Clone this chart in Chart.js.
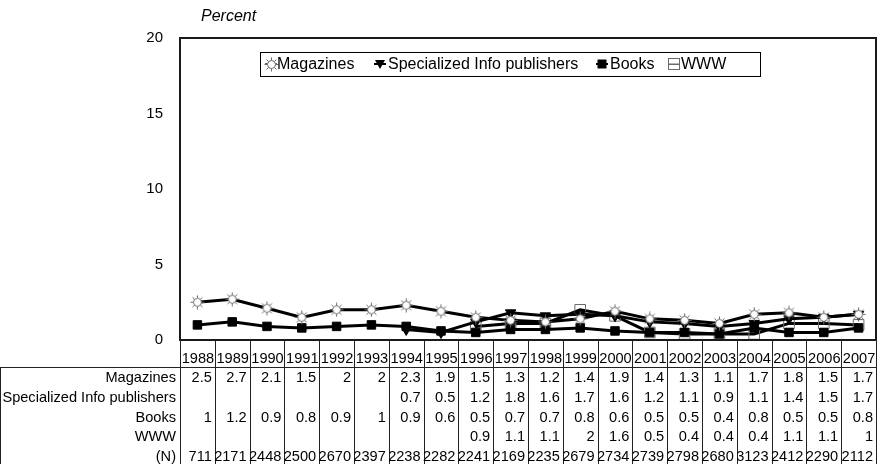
<!DOCTYPE html>
<html>
<head>
<meta charset="utf-8">
<script src="https://cdn.jsdelivr.net/npm/chart.js@4/dist/chart.umd.min.js"></script>
<style>
  html, body { margin: 0; padding: 0; background: #fff; }
  #c { display: block; }
</style>
</head>
<body>
<canvas id="c" width="886" height="464"></canvas>
<script>
// ---- DATA ----
const years = ['1988','1989','1990','1991','1992','1993','1994','1995','1996','1997','1998','1999','2000','2001','2002','2003','2004','2005','2006','2007'];
const magazines   = [2.5,2.7,2.1,1.5,2,2,2.3,1.9,1.5,1.3,1.2,1.4,1.9,1.4,1.3,1.1,1.7,1.8,1.5,1.7];
const specialized = [null,null,null,null,null,null,0.7,0.5,1.2,1.8,1.6,1.7,1.6,1.2,1.1,0.9,1.1,1.4,1.5,1.7];
const books       = [1,1.2,0.9,0.8,0.9,1,0.9,0.6,0.5,0.7,0.7,0.8,0.6,0.5,0.5,0.4,0.8,0.5,0.5,0.8];
const www         = [null,null,null,null,null,null,null,null,0.9,1.1,1.1,2,1.6,0.5,0.4,0.4,0.4,1.1,1.1,1];
const sampleN     = [711,2171,2448,2500,2670,2397,2238,2282,2241,2169,2235,2679,2734,2739,2798,2680,3123,2412,2290,2112];
const seriesNames = ['Magazines','Specialized Info publishers','Books','WWW'];
const nLabel = '(N)';
const yTicks = [0,5,10,15,20];
const yAxisTitle = 'Percent';

const FONT = '"Liberation Sans", Arial, Helvetica, sans-serif';

// sun marker
function makeSun(size) {
  const c = document.createElement('canvas');
  c.width = size; c.height = size;
  const g = c.getContext('2d');
  const m = size / 2;
  g.strokeStyle = '#6a6a6a';
  g.lineWidth = 1;
  for (let k = 0; k < 8; k++) {
    const a = k * Math.PI / 4;
    g.beginPath();
    g.moveTo(m + Math.cos(a) * 4, m + Math.sin(a) * 4);
    g.lineTo(m + Math.cos(a) * (m - 0.5), m + Math.sin(a) * (m - 0.5));
    g.stroke();
  }
  g.beginPath();
  g.arc(m, m, 4, 0, Math.PI * 2);
  g.fillStyle = '#fff';
  g.fill();
  g.stroke();
  return c;
}
const sunImg = makeSun(15);

function fmt(v) { return v === null || v === undefined ? '' : String(v); }

const tableRows = [
  { label: seriesNames[0], values: magazines },
  { label: seriesNames[1], values: specialized },
  { label: seriesNames[2], values: books },
  { label: seriesNames[3], values: www },
  { label: nLabel, values: sampleN }
];

function drawMarker(ctx, kind, x, y) {
  ctx.save();
  if (kind === 0) {
    ctx.drawImage(sunImg, Math.round(x - 7.5), Math.round(y - 7.5));
  } else if (kind === 1) {
    ctx.fillStyle = '#000';
    ctx.beginPath();
    ctx.moveTo(x - 5, y - 4);
    ctx.lineTo(x + 5, y - 4);
    ctx.lineTo(x, y + 5);
    ctx.closePath();
    ctx.fill();
  } else if (kind === 2) {
    ctx.fillStyle = '#000';
    ctx.fillRect(x - 4.5, y - 4.5, 9, 9);
  } else {
    ctx.strokeStyle = '#6a6a6a';
    ctx.lineWidth = 1;
    ctx.strokeRect(x - 5.5, y - 5.5, 11, 11);
  }
  ctx.restore();
}

const overlay = {
  id: 'overlay',
  afterDraw(chart) {
    const ctx = chart.ctx;
    const a = chart.chartArea;
    const xs = chart.scales.x;
    ctx.save();

    // plot frame
    ctx.strokeStyle = '#1a1a1a';
    ctx.lineWidth = 2;
    ctx.strokeRect(a.left, a.top, a.right - a.left, a.bottom - a.top);

    // y title
    ctx.fillStyle = '#000';
    ctx.font = 'italic 16px ' + FONT;
    ctx.textAlign = 'left';
    ctx.textBaseline = 'middle';
    ctx.fillText(yAxisTitle, 201, 17);

    // table
    const n = years.length;
    const bounds = [];
    bounds.push(a.left);
    for (let i = 0; i < n - 1; i++) {
      bounds.push((xs.getPixelForValue(i) + xs.getPixelForValue(i + 1)) / 2);
    }
    bounds.push(a.right);

    const tableTop = 367;
    const bottom = chart.height;
    ctx.strokeStyle = '#222';
    ctx.lineWidth = 1;
    ctx.beginPath();
    ctx.moveTo(0, tableTop + 0.5);
    ctx.lineTo(a.right, tableTop + 0.5);
    ctx.moveTo(0.5, tableTop);
    ctx.lineTo(0.5, bottom);
    for (let i = 0; i <= n; i++) {
      const bx = Math.round(bounds[i]) + 0.5;
      ctx.moveTo(bx, a.bottom);
      ctx.lineTo(bx, bottom);
    }
    ctx.stroke();

    ctx.font = '14.6px ' + FONT;
    ctx.fillStyle = '#000';
    ctx.textBaseline = 'middle';
    ctx.textAlign = 'center';
    for (let i = 0; i < n; i++) {
      ctx.fillText(years[i], (bounds[i] + bounds[i + 1]) / 2 + 0.5, 359);
    }
    const rowY = [377.5, 397.5, 417.5, 437, 456.5];
    tableRows.forEach((row, r) => {
      ctx.textAlign = 'right';
      ctx.fillText(row.label, a.left - 4, rowY[r]);
      for (let i = 0; i < n; i++) {
        ctx.fillText(fmt(row.values[i]), bounds[i + 1] - 3, rowY[r]);
      }
    });

    // legend
    const lb = { l: 260, t: 52, r: 760, b: 76 };
    ctx.fillStyle = '#fff';
    ctx.fillRect(lb.l, lb.t, lb.r - lb.l, lb.b - lb.t);
    ctx.strokeStyle = '#000';
    ctx.lineWidth = 1;
    ctx.strokeRect(lb.l + 0.5, lb.t + 0.5, lb.r - lb.l, lb.b - lb.t);
    const ly = 64;
    const items = [
      { mx: 271, tx: 277 },
      { mx: 380, tx: 388 },
      { mx: 602, tx: 610 },
      { mx: 674, tx: 681 }
    ];
    ctx.font = '16px ' + FONT;
    chart.data.datasets.forEach((ds, k) => {
      const it = items[k];
      ctx.strokeStyle = k === 0 ? '#6a6a6a' : (k === 3 ? '#6a6a6a' : '#000');
      ctx.lineWidth = k === 3 ? 1 : 2;
      ctx.beginPath();
      ctx.moveTo(it.mx - 6, ly);
      ctx.lineTo(it.mx + 6, ly);
      ctx.stroke();
      drawMarker(ctx, k, it.mx, ly);
      if (k === 3) {
        ctx.strokeStyle = '#6a6a6a';
        ctx.beginPath();
        ctx.moveTo(it.mx - 6, ly + 0.5);
        ctx.lineTo(it.mx + 6, ly + 0.5);
        ctx.stroke();
      }
      ctx.fillStyle = '#000';
      ctx.textAlign = 'left';
      ctx.fillText(ds.label, it.tx, ly + 0.5);
    });
    ctx.restore();
  }
};

const lineCommon = {
  borderColor: '#000',
  borderWidth: 3,
  tension: 0,
  spanGaps: false,
  pointHoverRadius: 5,
  fill: false
};

new Chart(document.getElementById('c'), {
  type: 'line',
  data: {
    labels: years,
    datasets: [
      Object.assign({}, lineCommon, {
        label: seriesNames[0], data: magazines,
        pointStyle: sunImg, pointRadius: 7
      }),
      Object.assign({}, lineCommon, {
        label: seriesNames[1], data: specialized,
        pointStyle: 'triangle', rotation: 180, pointRadius: 6,
        pointBackgroundColor: '#000', pointBorderColor: '#000', pointBorderWidth: 1
      }),
      Object.assign({}, lineCommon, {
        label: seriesNames[2], data: books,
        pointStyle: 'rect', pointRadius: 6,
        pointBackgroundColor: '#000', pointBorderColor: '#000', pointBorderWidth: 1
      }),
      Object.assign({}, lineCommon, {
        label: seriesNames[3], data: www,
        pointStyle: 'rect', pointRadius: 7.5,
        pointBackgroundColor: 'rgba(255,255,255,0)', pointBorderColor: '#6a6a6a', pointBorderWidth: 1
      })
    ]
  },
  options: {
    responsive: false,
    animation: false,
    devicePixelRatio: 1,
    layout: { padding: { top: 38, bottom: 124, left: 0, right: 2 } },
    plugins: {
      legend: { display: false },
      tooltip: { enabled: false },
      title: { display: false }
    },
    scales: {
      x: {
        type: 'category',
        display: false,
        offset: true
      },
      y: {
        min: 0,
        max: 20,
        afterFit(s) { s.width = 180; },
        afterBuildTicks(s) { s.ticks = yTicks.map(v => ({ value: v })); },
        grid: { display: false, drawTicks: false },
        border: { display: false },
        ticks: {
          padding: 17,
          color: '#000',
          font: { size: 15, family: FONT }
        }
      }
    }
  },
  plugins: [overlay]
});
</script>
</body>
</html>
